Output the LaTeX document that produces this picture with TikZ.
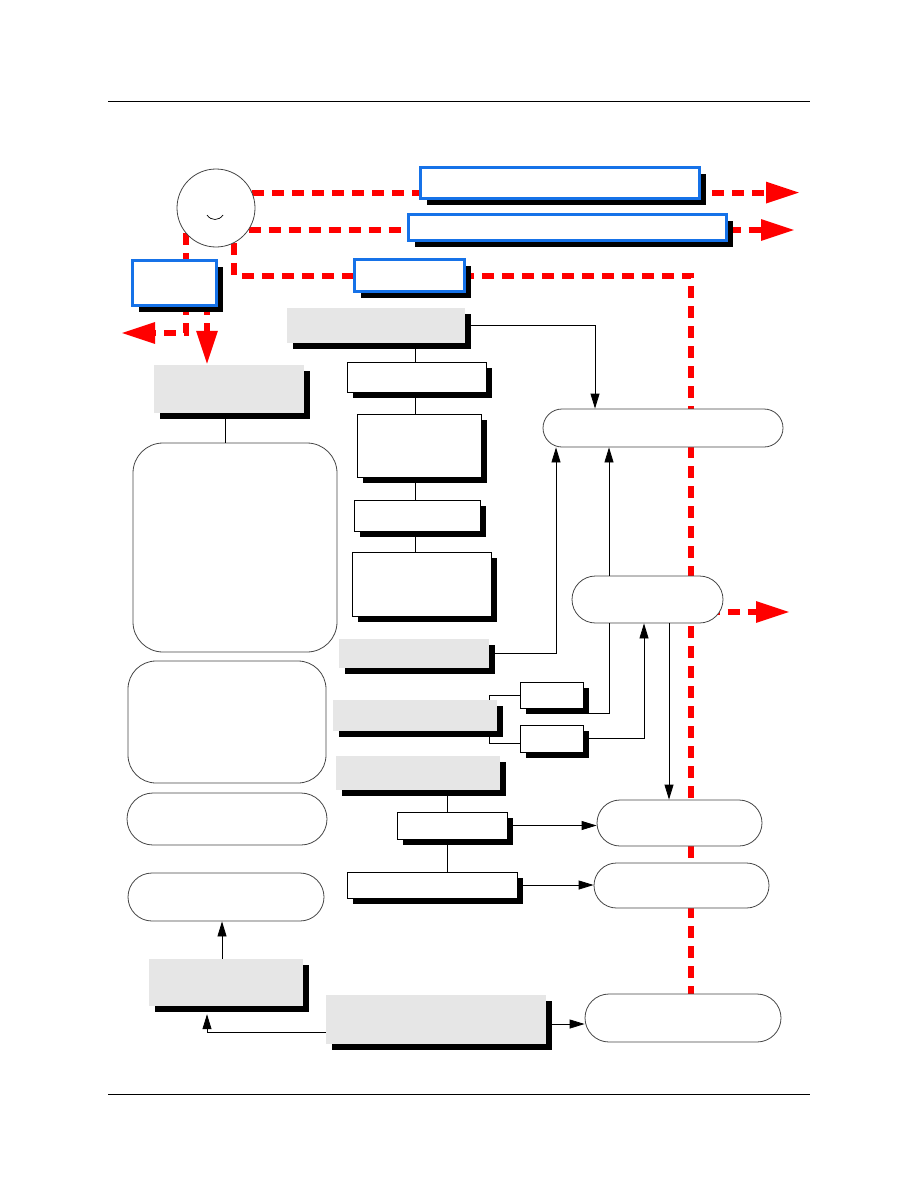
\documentclass[tikz,border=0pt]{standalone}
\usetikzlibrary{arrows.meta,shadows,shapes.misc,backgrounds}
\definecolor{boxblue}{RGB}{22,114,232}
\definecolor{boxgray}{RGB}{230,230,230}
\definecolor{rimgray}{RGB}{70,70,70}
\begin{document}
\begin{tikzpicture}[x=1pt, y=-1pt,
    boxshadow/.style={drop shadow={shadow xshift=6pt, shadow yshift=-6pt, fill=black, opacity=1}},
    bluebox/.style={rectangle, draw=boxblue, line width=3pt, fill=white, inner sep=0pt, boxshadow},
    graybox/.style={rectangle, fill=boxgray, inner sep=0pt, boxshadow},
    whitebox/.style={rectangle, draw, line width=0.9pt, fill=white, inner sep=0pt, boxshadow},
    roundbox/.style={rectangle, draw=rimgray, line width=0.8pt, fill=white, inner sep=0pt},
    pillbox/.style={rounded rectangle, draw=rimgray, line width=0.8pt, fill=white, inner sep=0pt},
    arr/.style={-{Triangle[length=15pt, width=9pt]}, line width=0.8pt},
    redline/.style={red, line width=6pt, dash pattern=on 12pt off 8pt},
    redarrow/.style={redline, -{Triangle[length=34pt, width=20pt]}}
]
\useasboundingbox (0,0) rectangle (918,1188);

% page rules
\draw[line width=0.8pt] (108,101) -- (810,101);
\draw[line width=0.8pt] (108,1094) -- (810,1094);

% source
\node[circle, draw=rimgray, line width=0.8pt, fill=white, minimum size=78pt, inner sep=0pt] (C) at (216,208) {};
\draw[line width=0.7pt] (207,215) .. controls (211,221) and (219,221) .. (223,215);

% blue boxes
\node[bluebox, minimum width=279pt, minimum height=31pt] (B1) at (560,183) {};
\node[bluebox, minimum width=318pt, minimum height=26pt] (B2) at (567.5,227.5) {};
\node[bluebox, minimum width=110pt, minimum height=32pt] (B3) at (409.5,275.5) {};
\node[bluebox, minimum width=84pt, minimum height=45pt] (B4) at (174.5,283) {};

% left column
\node[graybox, minimum width=150pt, minimum height=48pt] (GL1) at (229,389) {};
\node[roundbox, rounded corners=30pt, minimum width=204pt, minimum height=209pt] (R1) at (235,547.5) {};
\node[roundbox, rounded corners=28pt, minimum width=198pt, minimum height=122pt] (R2) at (227,722) {};
\node[pillbox, minimum width=200pt, minimum height=52pt] (E1) at (227,819) {};
\node[pillbox, minimum width=196pt, minimum height=48pt] (E2) at (226,897) {};
\node[graybox, minimum width=154pt, minimum height=47pt] (GL2) at (226,982.5) {};
\node[graybox, minimum width=220pt, minimum height=49pt] (GB) at (436,1019.5) {};

% middle column
\node[graybox, minimum width=178pt, minimum height=35pt] (G1) at (376,325.5) {};
\node[whitebox, minimum width=139pt, minimum height=30pt] (W1) at (416.5,377) {};
\node[whitebox, minimum width=124pt, minimum height=63pt] (W2) at (419,445.5) {};
\node[whitebox, minimum width=126pt, minimum height=31pt] (W3) at (417,515.5) {};
\node[whitebox, minimum width=139pt, minimum height=64pt] (W4) at (421.5,584) {};
\node[graybox, minimum width=150pt, minimum height=29pt] (G2) at (414,653.5) {};
\node[graybox, minimum width=164pt, minimum height=31pt] (G3) at (415,715.5) {};
\node[whitebox, minimum width=63pt, minimum height=26pt] (S1) at (551.5,695) {};
\node[whitebox, minimum width=63pt, minimum height=27pt] (S2) at (551.5,738.5) {};
\node[graybox, minimum width=164pt, minimum height=34pt] (G4) at (418,773) {};
\node[whitebox, minimum width=110pt, minimum height=27pt] (W5) at (452,825.5) {};
\node[whitebox, minimum width=170pt, minimum height=26pt] (W6) at (432,885) {};

% right column
\node[pillbox, minimum width=240pt, minimum height=38pt] (T) at (663,428) {};
\node[pillbox, minimum width=151pt, minimum height=47pt] (M) at (647.5,599.5) {};
\node[pillbox, minimum width=165pt, minimum height=46pt] (Er1) at (679.5,823) {};
\node[pillbox, minimum width=175pt, minimum height=45pt] (Er2) at (681.5,885.5) {};
\node[pillbox, minimum width=196pt, minimum height=48pt] (Eb) at (683,1018) {};

% free ends of the red paths
\coordinate (out1) at (800,193);
\coordinate (out2) at (795,229.5);
\coordinate (outL) at (121,333);
\coordinate (outM) at (790,612);
\coordinate (bend) at (691,275.5);
\coordinate (b4r) at (207,283);

% red paths
\begin{scope}[on background layer]
\draw[redarrow] (C.23) -- (C.23 -| out1);
\draw[redarrow] (C.-34) -- (C.-34 -| out2);
\draw[redline] (C.-62.5) |- (bend) -- (bend |- Eb.north);
\draw[redline] (C.-140) -- (C.-140 |- B4.center);
\draw[redarrow] (C.-140 |- B4.center) |- (outL);
\draw[redarrow] (b4r) -- (b4r |- GL1.north);
\draw[redarrow] (M.center |- outM) -- (outM);
\end{scope}

% black connectors
\draw[line width=0.8pt] ([xshift=-4pt]GL1.south) -- ([xshift=-4pt]GL1.south |- R1.north);
\draw[line width=0.8pt] ([xshift=-1.5pt]W1.north) -- ([xshift=-1.5pt]W1.north |- G1.south);
\draw[line width=0.8pt] ([xshift=-1.5pt]W1.south) -- ([xshift=-1.5pt]W1.south |- W2.north);
\draw[line width=0.8pt] ([xshift=-2pt]W3.north) -- ([xshift=-2pt]W3.north |- W2.south);
\draw[line width=0.8pt] ([xshift=-2pt]W3.south) -- ([xshift=-2pt]W3.south |- W4.north);
\draw[line width=0.8pt] ([xshift=-5pt]W5.north) -- ([xshift=-5pt]W5.north |- G4.south);
\draw[line width=0.8pt] ([xshift=-5pt]W5.south) -- ([xshift=-5pt]W5.south |- W6.north);
\draw[line width=0.8pt] ([xshift=-8pt]G3.north east) |- (S1.west);
\draw[line width=0.8pt] ([xshift=-8pt]G3.south east) |- ([yshift=-4.5pt]S2.west);
\draw[line width=0.8pt] ([yshift=-18pt]S1.east) -| ([xshift=-38.5pt]M.south);
\draw[arr] (G1.east) -| ([xshift=-68pt]T.north);
\draw[arr] (G2.east) -| ([xshift=-107pt]T.south);
\draw[arr] ([xshift=-38.5pt]M.north) -- ([xshift=-38.5pt]M.north |- T.south);
\draw[arr] (S2.east) -| ([xshift=-3.5pt]M.south);
\draw[arr] ([xshift=21.5pt]M.south) -- ([xshift=21.5pt]M.south |- Er1.north);
\draw[arr] (W5.east) -- (W5.east -| Er1.west);
\draw[arr] (W6.east) -- (W6.east -| Er2.west);
\draw[arr] ([yshift=-4.5pt]GB.east) -- ([yshift=-4.5pt]GB.east -| Eb.west);
\draw[arr] ([yshift=-12.5pt]GB.west) -| ([xshift=-19pt,yshift=-8pt]GL2.south);
\draw[arr] ([xshift=-4pt]GL2.north) -- ([xshift=-4pt]GL2.north |- E2.south);

\end{tikzpicture}
\end{document}
